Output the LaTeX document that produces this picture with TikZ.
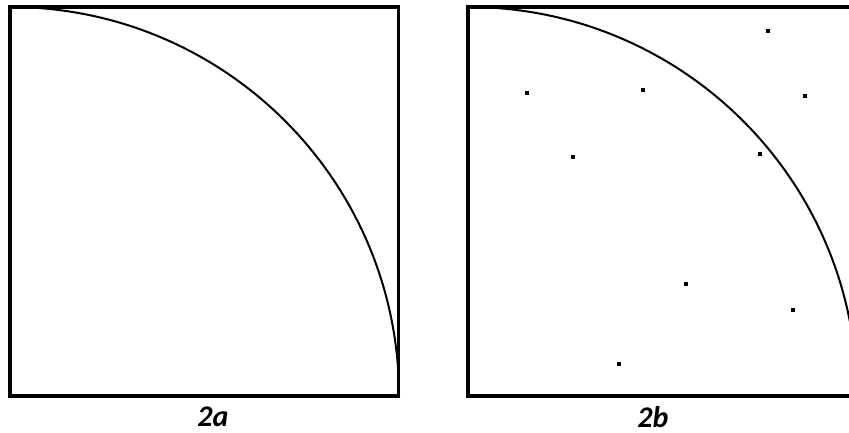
\documentclass[tikz,border=0pt]{standalone}
\usepackage{fontspec}
\setmainfont{Carlito}
\begin{document}
\begin{tikzpicture}[x=1pt,y=1pt,line join=miter]
  \tikzset{frame/.style={line width=3.6pt},
    quarter/.style={line width=2pt},
    caption/.style={font=\fontsize{30}{32}\selectfont\bfseries\itshape,inner sep=0pt}}
  \useasboundingbox (0,0) rectangle (849,433);
  \begin{scope}[xshift=10pt,yshift=37pt]
    \draw[frame] (0,0) rectangle (388.5,389);
    \draw[quarter] (0,389) arc[start angle=90,end angle=0,radius=389];
  \end{scope}
  \node[caption] (lbla) at (213,16) {2a};
  \begin{scope}
    \clip (0,0) rectangle (849,433);
    \begin{scope}[xshift=468pt,yshift=37pt]
      \draw[frame] (0,0) rectangle (389,389);
      \draw[quarter] (0,389) arc[start angle=90,end angle=0,radius=389];
      \foreach \x/\y in {59.3/303.3,175/305.7,105.3/238.7,299.7/365.3,336.7/299.7,292/241.7,218.3/112.3,324.7/86,151.3/31.7}{\fill (\x,\y) +(-1.9,-1.9) rectangle +(1.9,1.9);}
    \end{scope}
  \end{scope}
  \node[caption] (lblb) at (653,16) {2b};
\end{tikzpicture}
\end{document}
